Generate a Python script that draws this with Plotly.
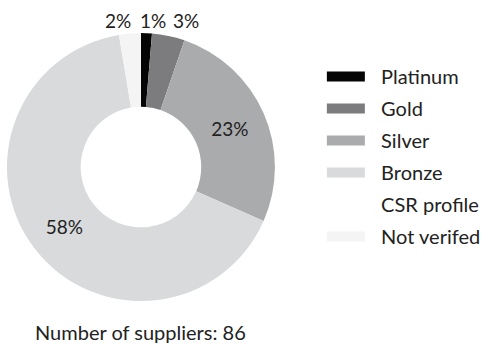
import plotly.graph_objects as go

# supplier counts per rating (86 suppliers in total)
categories = ['Platinum', 'Gold', 'Silver', 'Bronze', 'CSR profile', 'Not verifed']
counts = [1, 3, 20, 50, 10, 2]
in_ring = [True, True, True, True, False, True]   # CSR profile is not drawn in the ring
colors = ['#050505', '#7c7c7f', '#aaabad', '#d8dadb', '#ffffff', '#f4f4f4']

total = sum(counts)
ring_values = [c if show else 0 for c, show in zip(counts, in_ring)]
pct_text = [f'{round(100 * c / total)}%' for c in counts]

# small slices get their labels above the ring (pixel x of label centre)
outside_x = {5: 118, 0: 153.5, 1: 186.5}
label_pos = ['none' if i in outside_x or not in_ring[i] else 'inside' for i in range(len(categories))]

W, H = 486, 347
FONT = 'Lato, "Open Sans", sans-serif'
TXT = '#222222'

fig = go.Figure()
fig.add_trace(go.Pie(
    labels=categories, values=ring_values, text=pct_text,
    textinfo='text', textposition=label_pos,
    marker=dict(colors=colors, line=dict(width=0)),
    hole=0.45, sort=False, direction='clockwise', rotation=0,
    domain=dict(x=[0.0144, 0.568], y=[0.131, 0.906]),
    automargin=False, showlegend=False, hoverinfo='label+text',
    insidetextfont=dict(family=FONT, size=19, color=TXT),
))

# legend entries drawn as wide line swatches
for name, col in zip(categories, colors):
    fig.add_trace(go.Scatter(
        x=[None], y=[None], mode='lines', name='\u2002\u200a' + name, legendgroup=name,
        line=dict(color=col, width=16), hoverinfo='skip',
    ))

annotations = [dict(text=pct_text[i], x=px / W, y=1 - 20 / H, xref='paper', yref='paper',
                    xanchor='center', yanchor='middle', showarrow=False,
                    font=dict(family=FONT, size=19, color=TXT))
               for i, px in outside_x.items()]
annotations.append(dict(text=f'Number of suppliers: {total}', x=0.068, y=0.043,
                        xref='paper', yref='paper', xanchor='left', yanchor='middle',
                        showarrow=False, font=dict(family=FONT, size=20, color=TXT)))

fig.update_layout(
    width=W, height=H,
    margin=dict(l=0, r=0, t=0, b=0),
    paper_bgcolor='white', plot_bgcolor='white',
    font=dict(family=FONT, size=19, color=TXT),
    xaxis=dict(visible=False), yaxis=dict(visible=False),
    legend=dict(x=0.665, y=0.836, xanchor='left', yanchor='top',
                tracegroupgap=3, itemwidth=38,
                font=dict(family=FONT, size=20, color=TXT),
                bgcolor='rgba(0,0,0,0)'),
    annotations=annotations,
)

fig.write_html('out.html', config={'displayModeBar': False},
               post_script="document.body.style.margin='0';")
